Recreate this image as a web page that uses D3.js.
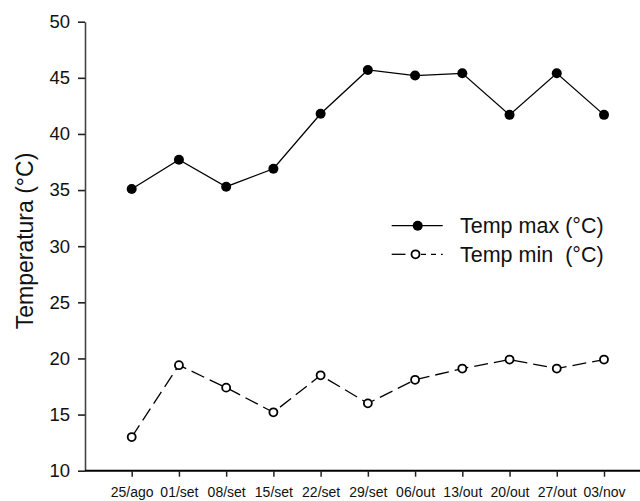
<!DOCTYPE html>
<html><head><meta charset="utf-8">
<script src="https://cdn.jsdelivr.net/npm/d3@7"></script>
<style>
body{margin:0;background:#fff;}
svg{display:block;font-family:"Liberation Sans",Arial,sans-serif;}
</style></head>
<body>
<svg id="c" width="640" height="501"></svg>
<script>
const dates = ["25/ago","01/set","08/set","15/set","22/set","29/set","06/out","13/out","20/out","27/out","03/nov"];
const tempMax = [35.1,37.7,35.3,36.9,41.8,45.7,45.2,45.4,41.7,45.4,41.7];
const tempMin = [13.0,19.4,17.4,15.2,18.5,16.0,18.1,19.1,19.9,19.1,19.9];
const yTicks = [10,15,20,25,30,35,40,45,50];
const seriesNames = ["Temp max (°C)","Temp min  (°C)"];
const yTitle = "Temperatura (°C)";

const svg = d3.select("#c");
const x = d3.scaleLinear().domain([0, dates.length-1]).range([131.7, 604]);
const y = d3.scaleLinear().domain([10,50]).range([470.7, 21.7]);

// y axis
const yAxis = svg.append("g").attr("transform","translate(85,0)")
  .call(d3.axisLeft(y).tickValues(yTicks).tickSize(7).tickPadding(8).tickSizeOuter(0));
yAxis.select(".domain").attr("stroke","#444").attr("stroke-width",1.6);
yAxis.selectAll(".tick line").attr("stroke","#222").attr("stroke-width",1.6);
yAxis.selectAll(".tick text").attr("font-size","18.5px").attr("fill","#111")
  .attr("font-family","Liberation Sans, Arial, sans-serif");

// x axis
const xAxis = svg.append("g").attr("transform","translate(0,470.7)")
  .call(d3.axisBottom(x).tickValues(d3.range(dates.length)).tickFormat(i=>dates[i]).tickSize(6).tickPadding(10).tickSizeOuter(0));
xAxis.select(".domain").attr("d","M85,0H640").attr("stroke","#000").attr("stroke-width",2);
xAxis.selectAll(".tick line").attr("stroke","#222").attr("stroke-width",1.5);
xAxis.selectAll(".tick text").attr("font-size","14px").attr("fill","#111")
  .attr("font-family","Liberation Sans, Arial, sans-serif");

// y title
svg.append("text").attr("transform","translate(33,241) rotate(-90)")
  .attr("text-anchor","middle").attr("font-size","23px").attr("fill","#111").text(yTitle);

const line = d3.line().x((d,i)=>x(i)).y(d=>y(d));

// max series
svg.append("path").datum(tempMax).attr("d",line).attr("fill","none")
  .attr("stroke","#000").attr("stroke-width",1.3);
svg.selectAll("circle.max").data(tempMax).enter().append("circle")
  .attr("class","max").attr("cx",(d,i)=>x(i)).attr("cy",d=>y(d)).attr("r",5).attr("fill","#000");

// min series
svg.append("path").datum(tempMin).attr("d",line).attr("fill","none")
  .attr("stroke","#000").attr("stroke-width",1.3).attr("stroke-dasharray","14,6");
svg.selectAll("circle.min").data(tempMin).enter().append("circle")
  .attr("class","min").attr("cx",(d,i)=>x(i)).attr("cy",d=>y(d)).attr("r",4)
  .attr("fill","#fff").attr("stroke","#000").attr("stroke-width",1.8);

// legend
const lg = svg.append("g");
lg.append("line").attr("x1",391.7).attr("x2",442.7).attr("y1",225.7).attr("y2",225.7)
  .attr("stroke","#000").attr("stroke-width",1.3);
lg.append("circle").attr("cx",417.7).attr("cy",225.7).attr("r",5).attr("fill","#000");
lg.append("path").attr("d","M391.7,254.3H405.5").attr("stroke","#000").attr("stroke-width",1.3);
lg.append("path").attr("d","M421,254.3H442.7").attr("stroke","#000").attr("stroke-width",1.3).attr("stroke-dasharray","5,5");
lg.append("circle").attr("cx",415.5).attr("cy",254.3).attr("r",4).attr("fill","#fff")
  .attr("stroke","#000").attr("stroke-width",1.8);
lg.append("text").attr("x",460).attr("y",233).attr("font-size","21.5px").attr("fill","#111").text(seriesNames[0]);
lg.append("text").attr("x",460).attr("y",262).attr("font-size","21.5px").attr("fill","#111")
  .style("white-space","pre").text(seriesNames[1]);
</script>
</body></html>
